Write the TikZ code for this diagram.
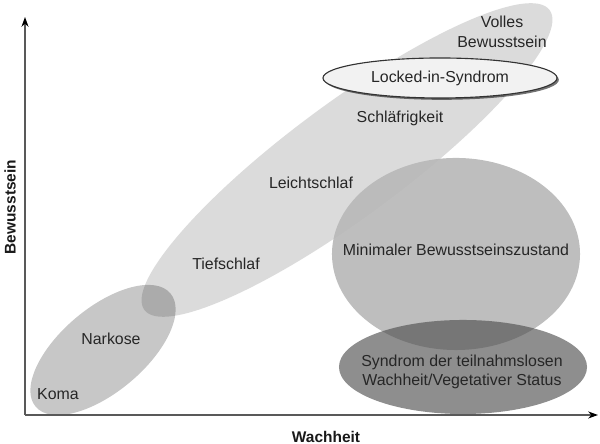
\documentclass[tikz,border=0pt]{standalone}
\usepackage{fontspec}
\setmainfont{Liberation Sans}
\usetikzlibrary{shapes.geometric,arrows.meta,shadows}

\tikzset{
  region/.style={ellipse, inner sep=0pt, draw=none},
  lbl/.style={font=\fontsize{11.3}{14}\selectfont, align=center, text=black!85},
  axis/.style={draw=black!65, line width=0.9pt, -{Stealth[length=7pt,width=5pt,black]}},
  axislabel/.style={font=\fontsize{11}{13}\selectfont\bfseries, text=black!90}
}

\begin{document}
\begin{tikzpicture}[x=0.025cm,y=0.025cm]
  \useasboundingbox (0,0) rectangle (600,444);

  % Regions
  \node[region, fill=black, opacity=0.14, minimum width=12.6cm, minimum height=2.85cm, rotate=36.5] (schlaf) at (347,284) {};
  \node[region, fill=black, opacity=0.22, minimum width=4.4cm, minimum height=2.1cm, rotate=40] (narkose) at (103,94) {};
  \node[region, fill=black!27, opacity=0.95, minimum width=6.2cm, minimum height=4.8cm] (mcs) at (456,190) {};
  \node[region, fill=black!70, opacity=0.63, minimum width=6.2cm, minimum height=2.35cm] (uws) at (463,77) {};
  \node[region, fill=black!5, draw=black!80, line width=0.8pt, minimum width=5.85cm, minimum height=1.0cm,
        drop shadow={shadow xshift=1.3pt, shadow yshift=-1.3pt, opacity=0.55, fill=black}] (locked) at (440,366) {};

  % Labels
  \node[lbl] (volles) at (502,412) {Volles\\Bewusstsein};
  \node[lbl] (lis) at (locked) {Locked-in-Syndrom};
  \node[lbl] (schlaefrig) at (400,326) {Schläfrigkeit};
  \node[lbl] (leicht) at (311,261) {Leichtschlaf};
  \node[lbl] (tief) at (226,180) {Tiefschlaf};
  \node[lbl] (nark) at (111,105) {Narkose};
  \node[lbl] (koma) at (58,50) {Koma};
  \node[lbl] (minimal) at (456,194) {Minimaler Bewusstseinszustand};
  \node[lbl] (syndrom) at (462,72) {Syndrom der teilnahmslosen\\Wachheit/Vegetativer Status};

  % Axes
  \coordinate (origin) at (25,29);
  \coordinate (ytop) at (25,427);
  \coordinate (xend) at (598,29);
  \draw[axis] (origin) -- (ytop);
  \draw[axis] (origin) -- (xend);
  \node[axislabel, rotate=90] (ylabel) at (10,237) {Bewusstsein};
  \node[axislabel] (xlabel) at (326,7) {Wachheit};
\end{tikzpicture}
\end{document}
